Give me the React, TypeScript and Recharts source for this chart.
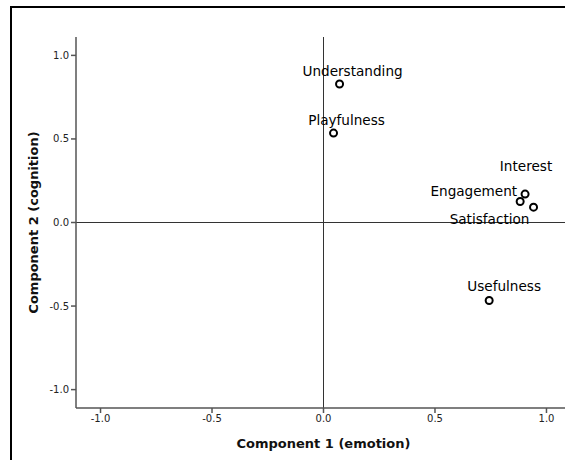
import {
  ReferenceLine,
  Scatter,
  ScatterChart,
  XAxis,
  YAxis,
  LabelList,
} from "recharts";

const names = ["Understanding", "Playfulness", "Interest", "Engagement", "Satisfaction", "Usefulness"];
const emotion = [0.072, 0.045, 0.904, 0.882, 0.942, 0.743];
const cognition = [0.829, 0.535, 0.17, 0.126, 0.092, -0.467];
const ticks = [-1, -0.5, 0, 0.5, 1];

const data = names.map((name, i) => ({ name, x: emotion[i], y: cognition[i] }));

const FONT = "'DejaVu Sans', Verdana, sans-serif";

// label placement around each point (SPSS nudges them to avoid overlap)
const labelPos: Record<string, { dx: number; dy: number; anchor: string }> = {
  Understanding: { dx: 13, dy: -8, anchor: "middle" },
  Playfulness: { dx: 13, dy: -8, anchor: "middle" },
  Usefulness: { dx: 15, dy: -10, anchor: "middle" },
  Interest: { dx: 1, dy: -23, anchor: "middle" },
  Engagement: { dx: -3, dy: -5, anchor: "end" },
  Satisfaction: { dx: -44, dy: 17, anchor: "middle" },
};

const PointLabel = (props: any) => {
  const { x, y, width, height, value } = props;
  const cx = x + width / 2;
  const cy = y + height / 2;
  const p = labelPos[value] || { dx: 0, dy: -8, anchor: "middle" };
  return (
    <text x={cx + p.dx} y={cy + p.dy} textAnchor={p.anchor} fontSize={13.6} fontFamily={FONT} fill="#000">
      {value}
    </text>
  );
};

const Dot = (props: any) => (
  <circle cx={props.cx} cy={props.cy} r={3.5} fill="#fff" stroke="#000" strokeWidth={2} />
);

const YTitle = (props: any) => {
  const vb = props.viewBox || { x: 0, y: 37, width: 76, height: 371 };
  const cx = vb.x + 33;
  const cy = vb.y + vb.height / 2;
  return (
    <text
      x={cx}
      y={cy}
      transform={`rotate(-90 ${cx} ${cy})`}
      textAnchor="middle"
      dominantBaseline="central"
      fontSize={13}
      fontWeight="bold"
      fontFamily={FONT}
      fill="#111"
    >
      Component 2 (cognition)
    </text>
  );
};

export default function App() {
  const tick = { fontSize: 10, fill: "#222", fontFamily: FONT };
  return (
    <div style={{ position: "fixed", left: 0, top: 0, width: 565, height: 460, overflow: "hidden", background: "#fff" }}>
      <ScatterChart
        width={565}
        height={460}
        margin={{ top: 37, right: -6, bottom: 0, left: 0 }}
        style={{ position: "absolute", left: 0, top: 0 }}
      >
        <XAxis
          type="number"
          dataKey="x"
          domain={[-1.11, 1.11]}
          ticks={ticks}
          tickFormatter={(v: number) => v.toFixed(1)}
          tick={tick}
          tickSize={5}
          height={52}
          allowDataOverflow
          stroke="#555"
          strokeWidth={1.5}
          label={{
            value: "Component 1 (emotion)",
            position: "insideBottom",
            offset: 12,
            style: { fontSize: 13, fontWeight: "bold", fontFamily: FONT, fill: "#111" },
          }}
        />
        <XAxis
          xAxisId="top"
          orientation="top"
          type="number"
          domain={[-1.11, 1.11]}
          height={0}
          tick={false}
          tickLine={false}
          stroke="#555"
          strokeWidth={1.5}
        />
        <YAxis
          type="number"
          dataKey="y"
          domain={[-1.11, 1.11]}
          ticks={ticks}
          tickFormatter={(v: number) => v.toFixed(1)}
          tick={tick}
          tickSize={5}
          width={76}
          allowDataOverflow
          stroke="#555"
          strokeWidth={1.5}
          label={{ content: YTitle }}
        />
        <ReferenceLine x={0} stroke="#333" strokeWidth={1} />
        <ReferenceLine y={0} stroke="#333" strokeWidth={1} />
        <Scatter data={data} shape={Dot} isAnimationActive={false}>
          <LabelList dataKey="name" content={PointLabel} />
        </Scatter>
      </ScatterChart>
      <div
        style={{
          position: "absolute",
          left: 10,
          top: 6,
          width: 600,
          height: 520,
          borderLeft: "2px solid #000",
          borderTop: "2px solid #000",
          pointerEvents: "none",
        }}
      />
    </div>
  );
}
